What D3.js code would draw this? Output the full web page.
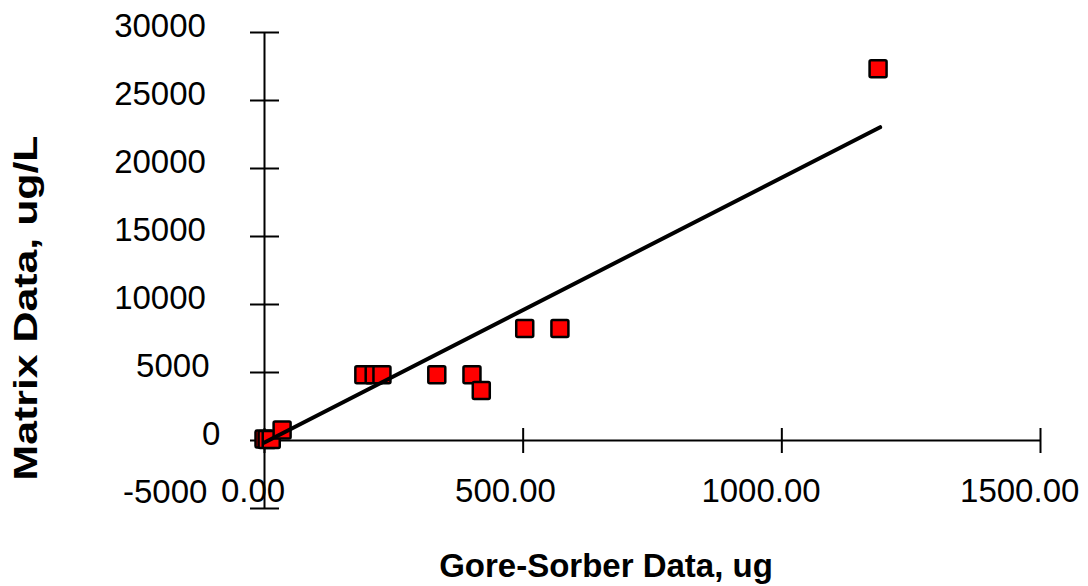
<!DOCTYPE html>
<html>
<head>
<meta charset="utf-8">
<script src="https://cdn.jsdelivr.net/npm/d3@7"></script>
<style>
  body { margin: 0; background: #fff; }
  text { font-family: "Liberation Sans", Arial, sans-serif; fill: #000; }
</style>
</head>
<body>
<div id="chart"></div>
<script>
// Gore-Sorber (ug) vs matrix (ug/L)
const gsData     = [0, 6, 14, 35, 193, 213, 228, 334, 402, 420, 504, 572, 1187];
const matrixData = [70, 40, 30, 735, 4800, 4800, 4800, 4800, 4800, 3640, 8200, 8200, 27300];

// trendline end points
const trendX = [0, 1191];
const trendY = [-200, 23000];

const xTicks = [0, 500, 1000, 1500];
const xTickLabels = ["0.00", "500.00", "1000.00", "1500.00"];
const yTicks = [-5000, 0, 5000, 10000, 15000, 20000, 25000, 30000];
const yTickLabels = ["-5000", "0", "5000", "10000", "15000", "20000", "25000", "30000"];

const W = 1088, H = 586;

const svg = d3.select("#chart").append("svg")
  .attr("width", W)
  .attr("height", H);

const x = d3.scaleLinear().domain([0, 1500]).range([264, 1040]);
const y = d3.scaleLinear().domain([-5000, 30000]).range([508, 32]);

// x axis on y=0
const gx = svg.append("g")
  .attr("transform", "translate(0," + y(0) + ")")
  .call(d3.axisBottom(x).tickValues(xTicks).tickSizeOuter(0).tickFormat(""));
gx.select(".domain").attr("stroke", "#000").attr("stroke-width", 2);
gx.selectAll(".tick line").attr("y1", -12).attr("y2", 13).attr("stroke", "#000").attr("stroke-width", 2);

// y axis on x=0
const gy = svg.append("g")
  .attr("transform", "translate(" + x(0) + ",0)")
  .call(d3.axisLeft(y).tickValues(yTicks).tickSizeOuter(0).tickFormat(""));
gy.select(".domain").attr("stroke", "#000").attr("stroke-width", 2);
gy.selectAll(".tick line").attr("x1", -14).attr("x2", 15).attr("stroke", "#000").attr("stroke-width", 2);

// tick labels
svg.append("g").selectAll("text")
  .data(yTicks)
  .join("text")
  .attr("font-size", 33)
  .attr("dominant-baseline", "central")
  .text((d, i) => yTickLabels[i])
  .each(function (d) {
    const w = this.getComputedTextLength();
    d3.select(this)
      .attr("x", 224 - 1.197 * w)
      .attr("y", Math.min(y(d) - 7, 491));
  });

svg.append("g").selectAll("text")
  .data(xTicks)
  .join("text")
  .attr("font-size", 33)
  .attr("dominant-baseline", "central")
  .text((d, i) => xTickLabels[i])
  .each(function (d) {
    const w = this.getComputedTextLength();
    d3.select(this)
      .attr("x", x(d) - 0.67 * w)
      .attr("y", 490);
  });

// points
svg.append("g").selectAll("rect")
  .data(gsData)
  .join("rect")
  .attr("x", (d) => x(d) - 8.5)
  .attr("y", (d, i) => y(matrixData[i]) - 8.5)
  .attr("width", 17)
  .attr("height", 17)
  .attr("rx", 1.5)
  .attr("fill", "#ff0000")
  .attr("stroke", "#000")
  .attr("stroke-width", 2.5);

// trendline
svg.append("line")
  .attr("x1", x(trendX[0]))
  .attr("y1", y(trendY[0]))
  .attr("x2", x(trendX[1]))
  .attr("y2", y(trendY[1]))
  .attr("stroke", "#000")
  .attr("stroke-width", 4)
  .attr("stroke-linecap", "round");

// axis titles
svg.append("text")
  .attr("x", 606)
  .attr("y", 577)
  .attr("text-anchor", "middle")
  .attr("font-size", 33)
  .attr("font-weight", "bold")
  .text("Gore-Sorber Data, ug");

svg.append("text")
  .attr("transform", "translate(37,308) rotate(-90)")
  .attr("text-anchor", "middle")
  .attr("font-size", 33)
  .attr("font-weight", "bold")
  .attr("textLength", 345)
  .attr("lengthAdjust", "spacingAndGlyphs")
  .text("Matrix Data, ug/L");
</script>
</body>
</html>
